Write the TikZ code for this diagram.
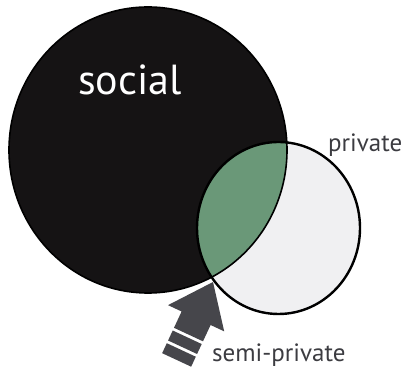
\documentclass[tikz,border=0pt]{standalone}
\usepackage{fontspec}
\setmainfont{PT Sans}
\usepackage{tikz}
\usetikzlibrary{positioning}

\definecolor{socialblack}{RGB}{21,19,20}
\definecolor{lensgreen}{RGB}{106,152,120}
\definecolor{privgray}{RGB}{240,240,242}
\definecolor{arrowgray}{RGB}{70,70,75}
\definecolor{labelgray}{RGB}{60,60,65}

\tikzset{
  label/.style={inner sep=0pt, anchor=base west, text=labelgray, font=\fontsize{25}{25}\selectfont},
  stripe/.style={fill=arrowgray, draw=none}
}

\begin{document}
\begin{tikzpicture}[x=1pt, y=1pt]
		\useasboundingbox (0,0) rectangle (407,374);
		\def\socialc{(148,224)}
		\def\privc{(278.5,146)}
		% social circle
		\fill[socialblack] \socialc ellipse [x radius=139, y radius=143];
		% private circle
		\fill[privgray] \privc ellipse [x radius=81.5, y radius=86];
		% semi-private overlap
		\begin{scope}
			\clip \socialc ellipse [x radius=139, y radius=143];
			\fill[lensgreen] \privc ellipse [x radius=81.5, y radius=86];
		\end{scope}
		\draw[black, line width=1.6pt] \socialc ellipse [x radius=139, y radius=143];
		\draw[black, line width=2.4pt] \privc ellipse [x radius=81.5, y radius=86];
		% labels
		\node[inner sep=0pt, anchor=base west, text=white, font=\fontsize{42}{42}\selectfont] (social) at (78,279) {social};
		\node[label] (private) at (328,222) {private};
		\node[label] (semi) at (212,12) {semi-private};
		% arrow to the overlap
		\begin{scope}[shift={(213,92)}, rotate=-25]
			\fill[stripe] (0,0) -- (31,-40) -- (16,-40) -- (16,-58) -- (-16,-58) -- (-16,-40) -- (-31,-40) -- cycle;
			\fill[stripe] (-16,-61) rectangle (16,-72);
			\fill[stripe] (-16,-75) rectangle (16,-86);
		\end{scope}
	\end{tikzpicture}
\end{document}
